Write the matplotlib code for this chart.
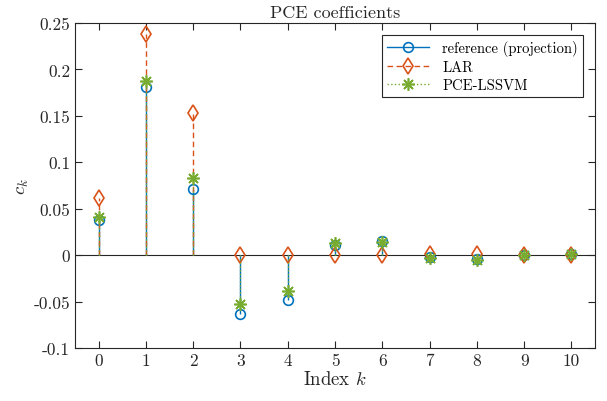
import numpy as np
import matplotlib
matplotlib.use('Agg')
import matplotlib.pyplot as plt
from matplotlib.legend_handler import HandlerLine2D
from matplotlib.lines import Line2D

plt.rcParams['mathtext.fontset'] = 'cm'
plt.rcParams['font.family'] = ['cmr10', 'DejaVu Serif']
plt.rcParams['axes.unicode_minus'] = False

# coefficient index and values
k = np.arange(11)
c_ref = [0.038, 0.181, 0.071, -0.063, -0.048, 0.011, 0.015, -0.002, -0.004, 0.0, 0.001]
c_lar = [0.062, 0.238, 0.153, 0.0, 0.0, 0.0, 0.0, 0.001, 0.001, 0.0, 0.0]
c_svm = [0.041, 0.188, 0.083, -0.053, -0.039, 0.013, 0.014, -0.003, -0.005, 0.0, 0.001]
yticks = [-0.1, -0.05, 0, 0.05, 0.1, 0.15, 0.2, 0.25]
ytick_labels = ['-0.1', '-0.05', '0', '0.05', '0.1', '0.15', '0.2', '0.25']

names = ['reference (projection)', 'LAR', 'PCE-LSSVM']
colors = ['#0072BD', '#D95319', '#77AC30']
styles = ['-', (0, (4, 2.5)), ':']
markers = ['o', 'd', (8, 2, 0)]
msizes = [7, 8, 9]

fig = plt.figure(figsize=(6.07, 4.02), dpi=100)
ax = fig.add_axes([0.1236, 0.1318, 0.8567, 0.8085])

ax.axhline(0, color='#262626', lw=0.8, zorder=1)

handles = []
for vals, name, col, ls, mk, ms in zip([c_ref, c_lar, c_svm], names, colors, styles, markers, msizes):
    ml, sl, bl = ax.stem(k, vals, basefmt=' ')
    sl.set_color(col)
    sl.set_linestyle(ls)
    sl.set_linewidth(1.0)
    ml.set_marker(mk)
    ml.set_markersize(ms)
    ml.set_markerfacecolor('none')
    ml.set_markeredgecolor(col)
    ml.set_markeredgewidth(1.2)
    handles.append(Line2D([0, 1], [0, 0], color=col, ls=ls, lw=1.0, marker=mk,
                          ms=ms, mfc='none', mec=col, mew=1.2))


class EndMarker(HandlerLine2D):
    # marker at the right end of the legend line, like MATLAB
    def get_xdata(self, legend, xdescent, ydescent, width, height, fontsize):
        xdata = np.array([-xdescent, -xdescent + width])
        return xdata, xdata[-1:]


ax.set_xlim(-0.5, 10.5)
ax.set_ylim(-0.1, 0.25)
ax.set_xticks(k)
ax.set_xticklabels([str(i) for i in k])
ax.set_yticks(yticks)
ax.set_yticklabels(ytick_labels)
ax.tick_params(direction='in', top=True, right=True, labelsize=12.5, colors='#262626',
               length=5, width=0.8)
for sp in ax.spines.values():
    sp.set_color('#262626')
    sp.set_linewidth(0.8)

ax.set_title('PCE coefficients', fontsize=13, pad=4, color='#262626')
ax.set_xlabel('Index $k$', fontsize=13.5, labelpad=1, color='#262626')
ax.set_ylabel('$c_k$', fontsize=13.5, labelpad=2, color='#262626')

leg = ax.legend(handles, names, handler_map={Line2D: EndMarker()}, loc='upper right',
                bbox_to_anchor=(0.977, 0.963), borderaxespad=0, fontsize=10.5,
                fancybox=False, framealpha=1, edgecolor='#262626', handlelength=2.9,
                handletextpad=0.9, borderpad=0.35, labelspacing=0.3)
leg.get_frame().set_linewidth(0.8)

fig.savefig('out.png', dpi=100)
